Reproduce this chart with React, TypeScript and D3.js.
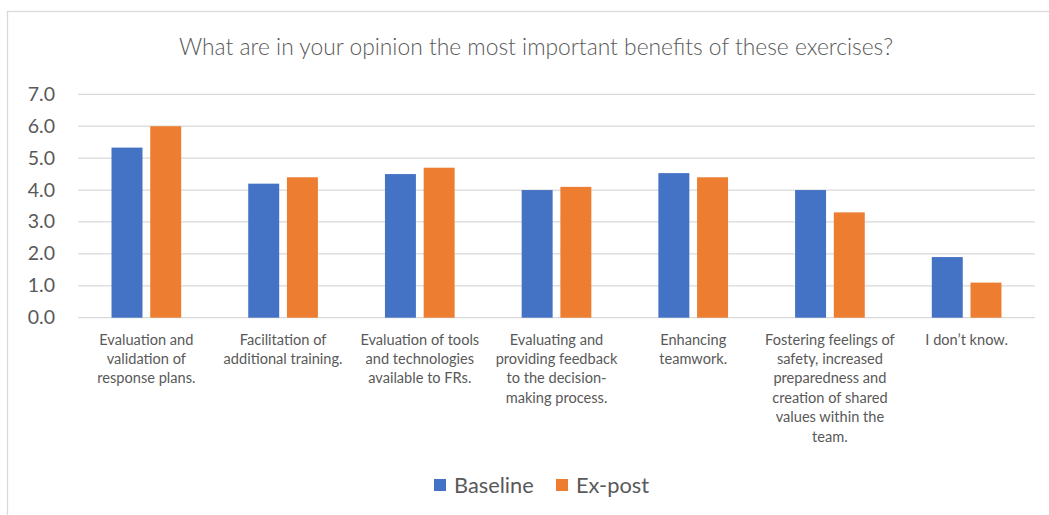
import React from "react";
import * as d3 from "d3";

const categories: string[][] = [
  ["Evaluation and", "validation of", "response plans."],
  ["Facilitation of", "additional training."],
  ["Evaluation of tools", "and technologies", "available to FRs."],
  ["Evaluating and", "providing feedback", "to the decision-", "making process."],
  ["Enhancing", "teamwork."],
  ["Fostering feelings of", "safety, increased", "preparedness and", "creation of shared", "values within the", "team."],
  ["I don\u2019t know."],
];
const baseline = [5.33, 4.2, 4.5, 4.0, 4.53, 4.0, 1.9];
const expost = [6.0, 4.4, 4.7, 4.1, 4.4, 3.3, 1.1];
const seriesNames = ["Baseline", "Ex-post"];
const seriesColors = ["#4472C4", "#ED7D31"];
const yTicks = [0, 1, 2, 3, 4, 5, 6, 7];
const title = "What are in your opinion the most important benefits of these exercises?";

const W = 1049;
const H = 515;
const FONT = "Lato, 'Open Sans', sans-serif";
const TEXT = "#595959";

export default function App() {
  const left = 78;
  const right = 1035;
  const top = 94.3;
  const bottom = 317.7;
  const keys = categories.map((_, i) => String(i));
  const x0 = d3.scaleBand<string>().domain(keys).range([left, right]).padding(0);
  const x1 = d3
    .scaleBand<string>()
    .domain(seriesNames)
    .range([0, x0.bandwidth()])
    .paddingInner(0.2)
    .paddingOuter(0.866);
  const y = d3.scaleLinear().domain([0, 7]).range([bottom, top]);
  const series = [baseline, expost];

  return (
    <svg
      width={W}
      height={H}
      style={{ position: "absolute", left: 0, top: 0, fontFamily: FONT }}
    >
      <rect x={0} y={0} width={W} height={H} fill="#fff" />
      <rect x={7.5} y={11.5} width={W + 20} height={H + 20} fill="#fff" stroke="#D9D9D9" strokeWidth={1.3} />
      <text x={536} y={54.5} textAnchor="middle" fontSize={22.8} fontWeight={300} fill={TEXT}>
        {title}
      </text>
      {yTicks.map((t) => (
        <g key={t}>
          <line x1={left} x2={right} y1={y(t)} y2={y(t)} stroke="#D9D9D9" strokeWidth={1.3} />
          <text x={55} y={y(t) + 6.5} textAnchor="end" fontSize={19.5} fill={TEXT}>
            {t.toFixed(1)}
          </text>
        </g>
      ))}
      {series.map((vals, si) =>
        vals.map((v, ci) => (
          <rect
            key={`${si}-${ci}`}
            x={(x0(String(ci)) as number) + (x1(seriesNames[si]) as number)}
            y={y(v)}
            width={x1.bandwidth()}
            height={y(0) - y(v)}
            fill={seriesColors[si]}
          />
        ))
      )}
      {categories.map((lines, ci) => (
        <text
          key={ci}
          x={(x0(String(ci)) as number) + x0.bandwidth() / 2}
          textAnchor="middle"
          fontSize={14.6}
          fill={TEXT}
        >
          {lines.map((l, li) => (
            <tspan key={li} x={(x0(String(ci)) as number) + x0.bandwidth() / 2} y={344.5 + li * 19.4}>
              {l}
            </tspan>
          ))}
        </text>
      ))}
      <g>
        <rect x={434} y={479} width={12} height={12} fill={seriesColors[0]} />
        <text x={454} y={492.5} fontSize={21.8} fill={TEXT}>{seriesNames[0]}</text>
        <rect x={556} y={479} width={12} height={12} fill={seriesColors[1]} />
        <text x={576} y={492.5} fontSize={21.8} fill={TEXT}>{seriesNames[1]}</text>
      </g>
    </svg>
  );
}
